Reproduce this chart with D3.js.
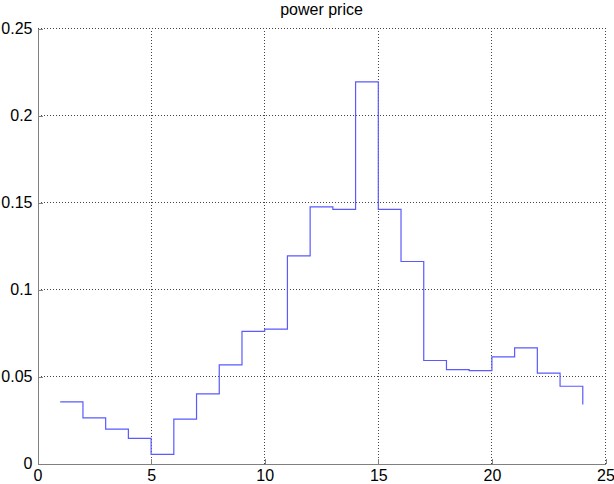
<!DOCTYPE html>
<html>
<head>
<script src="https://d3js.org/d3.v7.min.js"></script>
<style>
  body { margin: 0; background: #fff; }
  text { font-family: "Liberation Sans", Arial, sans-serif; fill: #000; }
  .grid line { stroke: #444; stroke-width: 1; stroke-dasharray: 1,2; shape-rendering: crispEdges; }
</style>
</head>
<body>
<div id="chart"></div>
<script>
// hourly power price, stairs plot
var hours = d3.range(1, 25);
var price = [0.0354, 0.0262, 0.0197, 0.0144, 0.0052, 0.0255, 0.0400, 0.0567,
             0.0759, 0.0772, 0.1193, 0.1475, 0.1461, 0.2193, 0.1460, 0.1161,
             0.0592, 0.0540, 0.0534, 0.0613, 0.0664, 0.0519, 0.0444, 0.0339];
var xTicks = [0, 5, 10, 15, 20, 25];
var yTicks = [0, 0.05, 0.1, 0.15, 0.2, 0.25];
var title = "power price";

var width = 614, height = 484;
var svg = d3.select("#chart").append("svg")
    .attr("width", width)
    .attr("height", height);

var x = d3.scaleLinear().domain([0, 25]).range([37.5, 605.5]);
var y = d3.scaleLinear().domain([0, 0.25]).range([463.5, 28.5]);

// grid
var grid = svg.append("g").attr("class", "grid");
grid.selectAll("line.v").data(xTicks.slice(1)).enter().append("line")
    .attr("class", "v")
    .attr("x1", function(d){ return x(d); })
    .attr("x2", function(d){ return x(d); })
    .attr("y1", y(0)).attr("y2", y(0.25));
grid.selectAll("line.h").data(yTicks.slice(1)).enter().append("line")
    .attr("class", "h")
    .attr("x1", x(0)).attr("x2", x(25))
    .attr("y1", function(d){ return y(d); })
    .attr("y2", function(d){ return y(d); });

// axes, ticks pointing inward like matlab
var xAxis = svg.append("g")
    .attr("transform", "translate(0," + y(0) + ")")
    .call(d3.axisBottom(x).tickValues(xTicks).tickSizeInner(-5).tickSizeOuter(0).tickPadding(6));
var yAxis = svg.append("g")
    .attr("transform", "translate(" + x(0) + ",0)")
    .call(d3.axisLeft(y).tickValues(yTicks).tickSizeInner(-5).tickSizeOuter(0).tickPadding(5)
      .tickFormat(function(d){ return d === 0 ? "0" : String(+d.toFixed(2)); }));

[xAxis, yAxis].forEach(function(a){
  a.select(".domain").attr("stroke", "#808080").attr("shape-rendering", "crispEdges");
  a.selectAll(".tick line").attr("stroke", "#808080").attr("shape-rendering", "crispEdges");
  a.selectAll(".tick text").attr("font-size", 16).attr("font-family", "Liberation Sans, Arial, sans-serif").attr("fill", "#000");
});
yAxis.selectAll(".tick text").attr("dy", "0.3em");

// stairs line
var pts = hours.map(function(h, i){ return [h, price[i]]; });
var line = d3.line()
    .x(function(d){ return x(d[0]); })
    .y(function(d){ return y(d[1]); })
    .curve(d3.curveStepAfter);
svg.append("path")
    .datum(pts)
    .attr("d", line)
    .attr("fill", "none")
    .attr("stroke", "#5a5aff")
    .attr("stroke-width", 1.2);

svg.append("text")
    .attr("x", (x(0) + x(25)) / 2)
    .attr("y", 15)
    .attr("text-anchor", "middle")
    .attr("font-size", 16)
    .text(title);
</script>
</body>
</html>
